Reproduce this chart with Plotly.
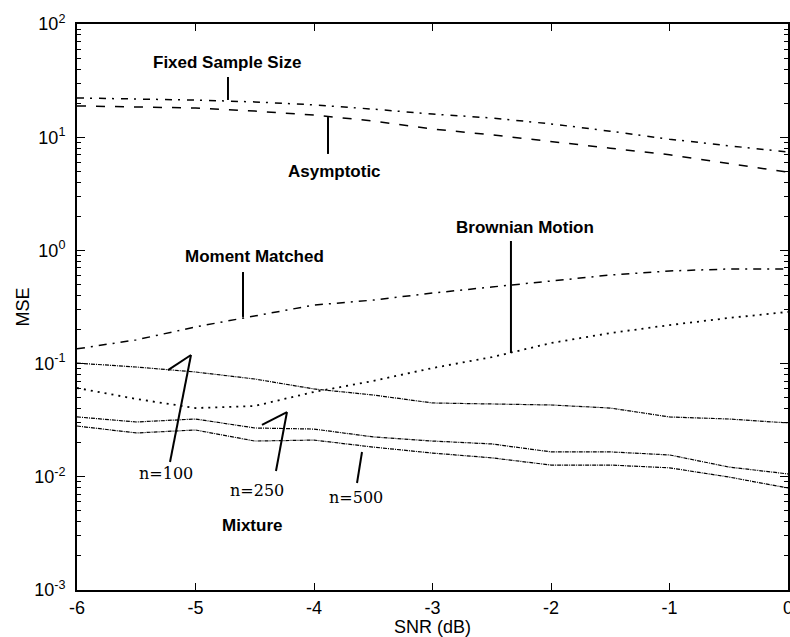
import math
import plotly.graph_objects as go

# ---- data ----
snr_db = [-6, -5.5, -5, -4.5, -4, -3.5, -3, -2.5, -2, -1.5, -1, -0.5, 0]

mse_fixed_sample = [22.2, 21.8, 21.3, 20.5, 19.3, 17.7, 16.0, 14.8, 13.1, 11.3, 9.6, 8.4, 7.4]
mse_asymptotic = [18.9, 18.5, 18.1, 17.0, 15.7, 13.9, 11.8, 10.5, 9.1, 8.0, 7.0, 5.9, 4.9]
mse_moment_matched = [0.135, 0.162, 0.211, 0.263, 0.329, 0.364, 0.420, 0.475, 0.537, 0.606, 0.658, 0.685, 0.685]
mse_brownian = [0.0609, 0.0487, 0.0405, 0.0422, 0.0562, 0.0702, 0.0914, 0.114, 0.152, 0.186, 0.219, 0.253, 0.286]
mse_mix_n100 = [0.101, 0.0933, 0.0843, 0.0731, 0.0597, 0.0528, 0.0449, 0.0440, 0.0431, 0.0405, 0.0338, 0.0324, 0.0299]
mse_mix_n250 = [0.0338, 0.0305, 0.0324, 0.0270, 0.0264, 0.0225, 0.0207, 0.0195, 0.0166, 0.0166, 0.0156, 0.0122, 0.0106]
mse_mix_n500 = [0.0281, 0.0244, 0.0259, 0.0207, 0.0211, 0.0183, 0.0162, 0.0147, 0.0127, 0.0127, 0.0120, 0.00996, 0.00796]

x_tick_vals = [-6, -5, -4, -3, -2, -1, 0]
x_tick_text = ["-6", "-5", "-4", "-3", "-2", "-1", "0"]
y_tick_vals = [1e-3, 1e-2, 1e-1, 1e0, 1e1, 1e2]
y_tick_text = ["10<sup>-3</sup>", "10<sup>-2</sup>", "10<sup>-1</sup>",
               "10<sup>0</sup>", "10<sup>1</sup>", "10<sup>2</sup>"]
y_minor_vals = [m * 10.0 ** e for e in range(-3, 2) for m in range(2, 10)]

SANS = "Liberation Sans, Arial, Helvetica, sans-serif"
SERIF = "DejaVu Serif, serif"

fig = go.Figure()

def add_line(y, dash, width=1.5):
    fig.add_trace(go.Scatter(x=snr_db, y=y, mode="lines",
                             line=dict(color="black", width=width, dash=dash),
                             showlegend=False, hoverinfo="skip"))

add_line(mse_fixed_sample, "7px,6px,2px,7px")
add_line(mse_asymptotic, "9px,10px")
add_line(mse_moment_matched, "8px,6px,2px,6px")
add_line(mse_brownian, "2px,5px", width=1.8)
add_line(mse_mix_n100, "4px,1px,1px,1px", width=1.2)
add_line(mse_mix_n250, "4px,1px,1px,1px", width=1.2)
add_line(mse_mix_n500, "4px,1px,1px,1px", width=1.2)

# ---- labels and pointer lines (x in dB, y given as log10 of MSE) ----
bold_labels = [
    ("Fixed Sample Size", -4.734, 1.664),
    ("Asymptotic", -3.823, 0.693),
    ("Moment Matched", -4.506, -0.058),
    ("Brownian Motion", -2.219, 0.198),
    ("Mixture", -4.523, -2.426),
]
serif_labels = [
    ("n=100", -5.249, -1.975),
    ("n=250", -4.481, -2.117),
    ("n=500", -3.646, -2.187),
]
pointers = [
    (-4.726, 1.532, -4.726, 1.329),
    (-3.882, 1.178, -3.882, 0.852),
    (-4.599, -0.191, -4.599, -0.588),
    (-2.338, 0.083, -2.338, -0.906),
    (-5.215, -1.869, -5.038, -0.924),
    (-5.232, -1.057, -5.038, -0.924),
    (-4.321, -1.949, -4.228, -1.428),
    (-4.439, -1.542, -4.228, -1.428),
    (-3.637, -2.055, -3.595, -1.781),
]

for text, x, y in bold_labels:
    fig.add_annotation(x=x, y=y, xref="x", yref="y", text="<b>%s</b>" % text,
                       showarrow=False, font=dict(family=SANS, size=17, color="black"))
for text, x, y in serif_labels:
    fig.add_annotation(x=x, y=y, xref="x", yref="y", text=text,
                       showarrow=False, font=dict(family=SERIF, size=16, color="black"))
for x0, y0, x1, y1 in pointers:
    fig.add_shape(type="line", xref="x", yref="y", x0=x0, y0=10 ** y0, x1=x1, y1=10 ** y1,
                  line=dict(color="black", width=2))

fig.update_xaxes(
    range=[-6, 0], tickvals=x_tick_vals, ticktext=x_tick_text,
    ticks="inside", ticklen=7, tickwidth=1.2, tickcolor="black",
    showline=True, linecolor="black", linewidth=2, mirror="ticks",
    showgrid=False, zeroline=False, automargin=False, ticklabeloverflow="allow",
    tickfont=dict(family=SANS, size=18, color="black"),
    title=dict(text="SNR (dB)", font=dict(family=SANS, size=18, color="black"), standoff=2),
)
fig.update_yaxes(
    type="log", range=[-3, 2], tickvals=y_tick_vals, ticktext=y_tick_text,
    ticks="inside", ticklen=8, tickwidth=1.2, tickcolor="black",
    minor=dict(ticks="inside", ticklen=4, tickvals=y_minor_vals, tickcolor="black", showgrid=False),
    showline=True, linecolor="black", linewidth=2, mirror="ticks",
    showgrid=False, zeroline=False, automargin=False,
    tickfont=dict(family=SANS, size=18, color="black"),
    ticklabelstandoff=6,
    title=dict(text="MSE", font=dict(family=SANS, size=18, color="black"), standoff=0),
)
fig.update_layout(
    width=790, height=637,
    margin=dict(l=77, r=2, t=24, b=47),
    paper_bgcolor="white", plot_bgcolor="white",
    showlegend=False,
)

post = ("document.body.style.margin='0';document.body.style.padding='0';"
        "document.body.style.overflow='hidden';"
        "var gd=document.getElementById('{plot_id}');"
        "Plotly.relayout(gd,{width:790,height:637});")
fig.write_html("out.html", post_script=post, config={"displayModeBar": False})
